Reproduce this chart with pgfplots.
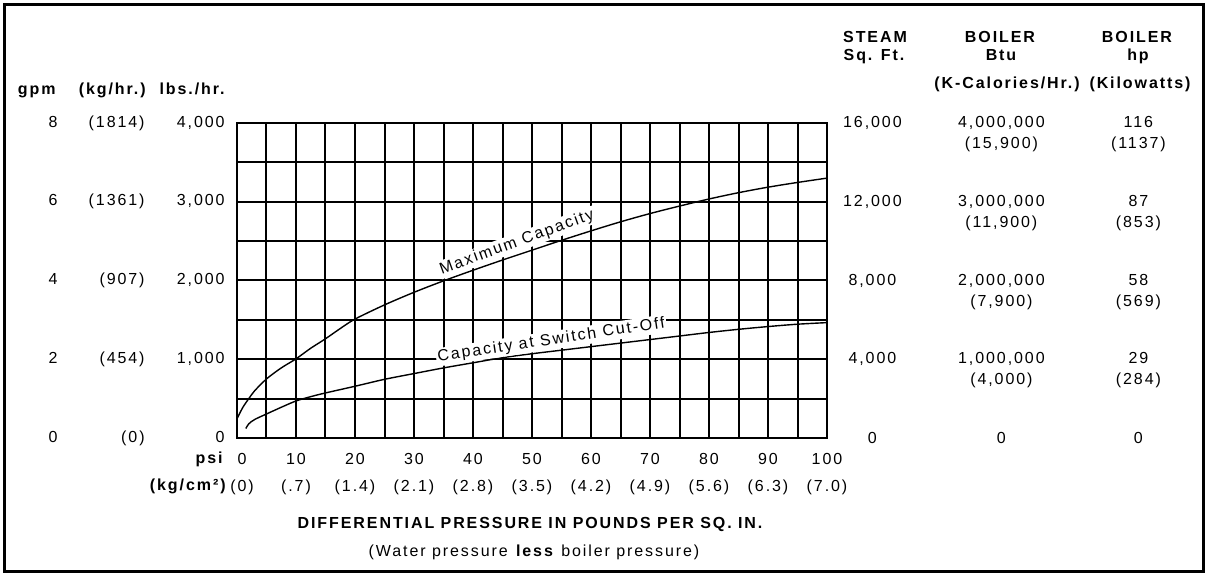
\documentclass[border=0pt]{standalone}
\usepackage{fontspec}
\setmainfont{Liberation Sans}[LetterSpace=12]
\usepackage{pgfplots}
\pgfplotsset{compat=1.18}

% left tick label: gpm, (kg/hr.), lbs./hr. -- right aligned columns
\newcommand{\lft}[3]{\makebox[83.5pt][l]{\llap{#1}\hspace{43.5pt}\llap{#2}\hspace{40pt}\llap{#3}}}
% two-line entry, top line on the tick
\newcommand{\two}[2]{\smash{\begin{tabular}[t]{@{}c@{}}#1\\#2\end{tabular}}}
% right tick label: steam sq ft, boiler Btu (kcal), boiler hp (kW)
\newcommand{\rgt}[5]{\makebox[0pt]{#1}\hspace{64.5pt}\makebox[0pt]{\two{#2}{#3}}\hspace{68.5pt}\makebox[0pt]{\two{#4}{#5}}}

\begin{document}
\begin{tikzpicture}
\begin{axis}[
  width=295pt, height=157.5pt, scale only axis,
  xmin=0, xmax=100, ymin=0, ymax=4000,
  xtick={0,10,...,100},
  minor xtick={5,15,...,95},
  ytick={0,1000,...,4000},
  minor ytick={500,1500,2500,3500},
  grid=both,
  major grid style={black, line width=1pt},
  minor grid style={black, line width=1pt},
  axis line style={black, line width=1pt},
  major tick length=0pt, minor tick length=0pt,
  xticklabels={{\hspace*{5pt}0\\\hspace*{5pt}(0)},{10\\(.7)},{20\\(1.4)},{30\\(2.1)},{40\\(2.8)},{50\\(3.5)},{60\\(4.2)},{70\\(4.9)},{80\\(5.6)},{90\\(6.3)},{100\\(7.0)}},
  xticklabel style={align=center, anchor=north, inner sep=0pt, yshift=-7.5pt, font=\fontsize{8}{13.5}\selectfont},
  yticklabels={{\lft{0}{(0)}{0}},{\lft{2}{(454)}{1,000}},{\lft{4}{(907)}{2,000}},{\lft{6}{(1361)}{3,000}},{\lft{8}{(1814)}{4,000}}},
  yticklabel style={anchor=east, inner sep=0pt, xshift=-6pt, font=\fontsize{8}{9.5}\selectfont},
  clip=false,
]
% Maximum capacity (lbs./hr.)
\addplot[black, line width=0.7pt, smooth]
  coordinates{
    (0,245) (1,390) (2,500) (3,600) (5,750) (7.5,890) (10,1005) (12.5,1140)
    (15,1260) (17.5,1390) (20,1510) (25,1690) (30,1850) (35,1995) (40,2130)
    (45,2260) (50,2385) (55,2510) (60,2630) (65,2745) (70,2850) (75,2945)
    (80,3035) (85,3115) (90,3185) (95,3245) (100,3300)
  };
% Capacity at switch cut-off (lbs./hr.)
\addplot[black, line width=0.7pt, smooth]
  coordinates{
    (1.5,120) (2,180) (3,235) (5,305) (7.5,390) (10,470) (12.5,525) (15,572)
    (20,657) (25,745) (30,818) (35,890) (40,955) (45,1020) (50,1070) (55,1115)
    (60,1160) (65,1205) (70,1250) (75,1295) (80,1340) (85,1380) (90,1415)
    (95,1445) (100,1465)
  };
\node[anchor=south, rotate=20, fill=white, inner sep=0.8pt, font=\fontsize{8}{9.5}\selectfont]
  at (axis cs:48,2370) {Maximum Capacity};
\node[anchor=south, rotate=8.5, fill=white, inner sep=0.8pt, font=\fontsize{8}{9.5}\selectfont]
  at (axis cs:53.5,1120) {Capacity at Switch Cut-Off};
\end{axis}

\begin{axis}[
  width=295pt, height=157.5pt, scale only axis,
  xmin=0, xmax=100, ymin=0, ymax=16000,
  axis y line*=right, axis x line=none,
  axis line style={draw=none}, tick style={draw=none},
  scaled y ticks=false,
  ytick={0,4000,...,16000},
  yticklabels={{\makebox[0pt]{0}\hspace{64.5pt}\makebox[0pt]{0}\hspace{68.5pt}\makebox[0pt]{0}},
    {\rgt{4,000}{1,000,000}{(4,000)}{29}{(284)}},
    {\rgt{8,000}{2,000,000}{(7,900)}{58}{(569)}},
    {\rgt{12,000}{3,000,000}{(11,900)}{87}{(853)}},
    {\rgt{16,000}{4,000,000}{(15,900)}{116}{(1137)}}},
  yticklabel style={anchor=west, inner sep=0pt, xshift=22.5pt, font=\fontsize{8}{10.5}\selectfont},
]
\end{axis}

% headings, in pixel coordinates of the 1209x576 picture
\begin{scope}[x=0.5pt, y=-0.5pt, shift={(-118.5pt,219pt)},
  every node/.style={inner sep=0pt, font=\fontsize{8}{9.5}\selectfont}]
\draw[line width=1.1pt] (4.5,4.5) rectangle (1203.5,571.5);
\node[anchor=base east] at (56,95) {\bfseries gpm};
\node[anchor=base east] at (146,95) {\bfseries (kg/hr.)};
\node[anchor=base east] at (225,95) {\bfseries lbs./hr.};
\node[anchor=base] at (875,43) {\bfseries STEAM};
\node[anchor=base] at (874,61) {\bfseries Sq. Ft.};
\node[anchor=base] at (1000,43) {\bfseries BOILER};
\node[anchor=base] at (1001,61) {\bfseries Btu};
\node[anchor=base] at (1007,89) {\bfseries (K-Calories/Hr.)};
\node[anchor=base] at (1137,43) {\bfseries BOILER};
\node[anchor=base] at (1138,61) {\bfseries hp};
\node[anchor=base] at (1140,89) {\bfseries (Kilowatts)};
\node[anchor=base east] at (223,464) {\bfseries psi};
\node[anchor=base east] at (226,491) {\bfseries (kg/cm²)};
\node[anchor=base] at (530,529) {\bfseries DIFFERENTIAL PRESSURE IN POUNDS PER SQ. IN.};
\node[anchor=base] at (534,557) {(Water pressure \textbf{less} boiler pressure)};
\end{scope}
\pgfresetboundingbox
\path[use as bounding box] (-118.5pt,-69pt) rectangle (486pt,219pt);
\end{tikzpicture}
\end{document}
